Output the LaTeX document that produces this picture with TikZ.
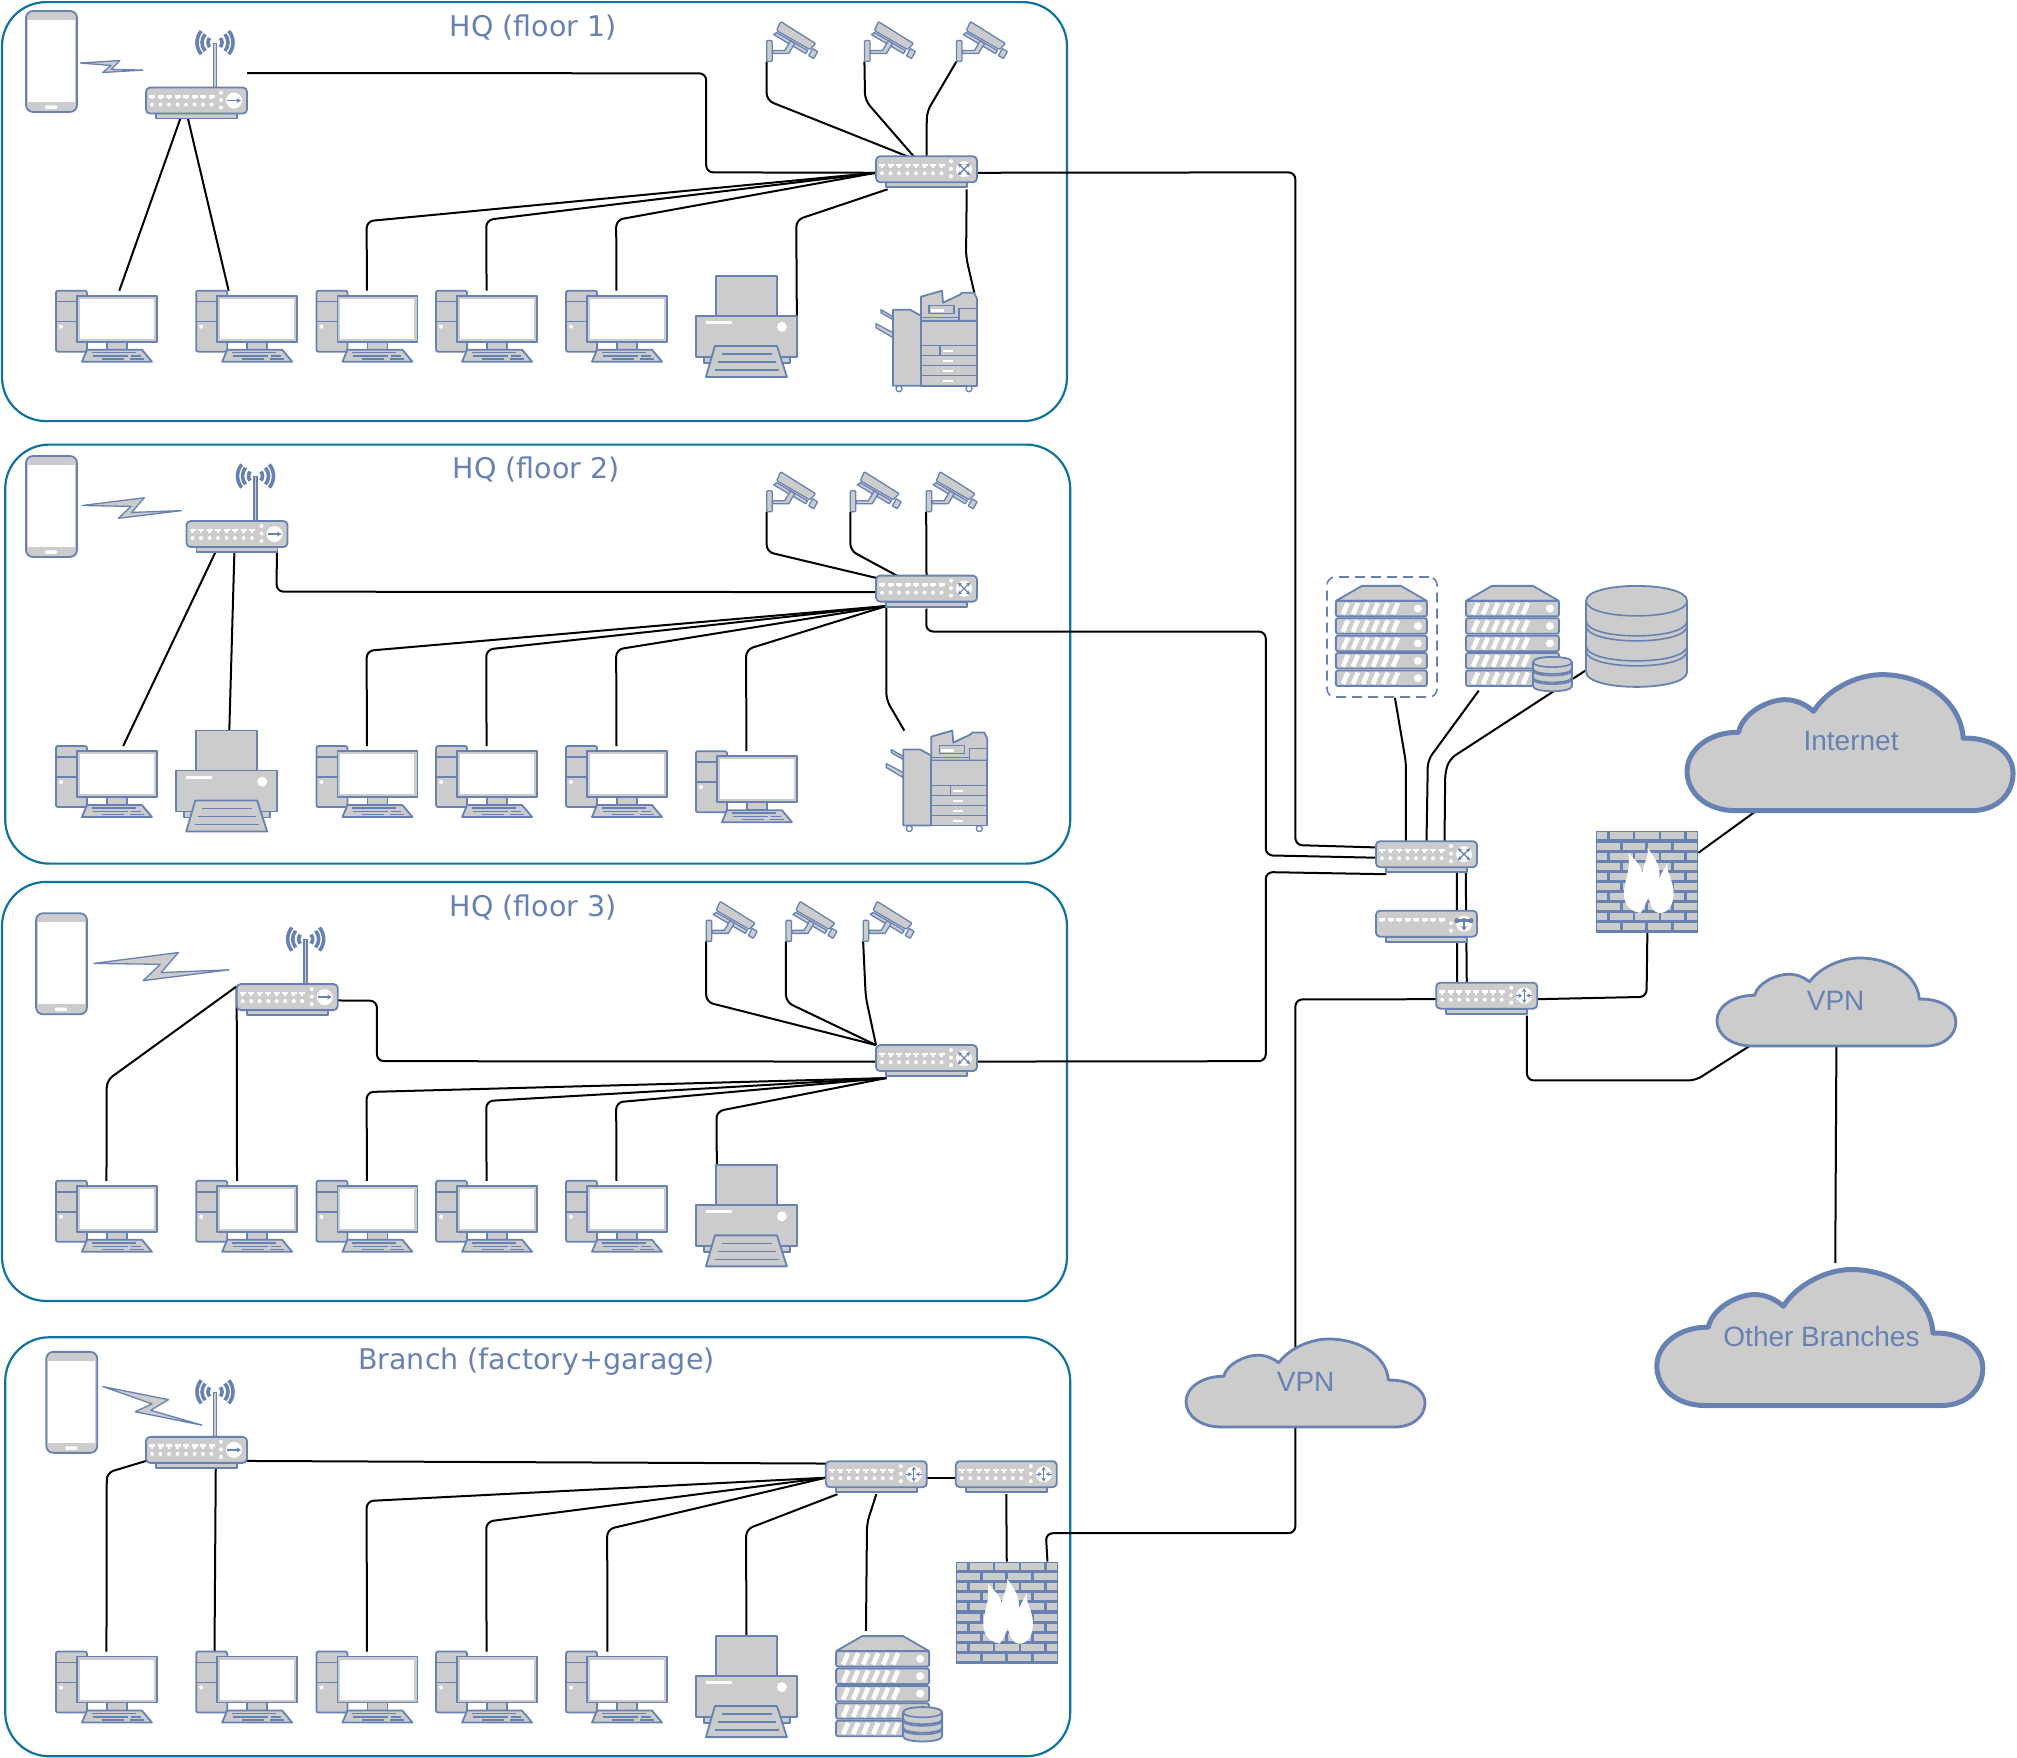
\documentclass[tikz,border=0pt]{standalone}
\usepackage{fontspec}
\usetikzlibrary{calc,arrows.meta}
\setmainfont{Liberation Sans}
\newfontfamily\titlefont{DejaVu Sans}
\definecolor{bl}{HTML}{6881B3}
\definecolor{gy}{HTML}{CCCCCC}
\definecolor{frame}{HTML}{10739E}
\pgfdeclarelayer{grp}\pgfdeclarelayer{wires}\pgfsetlayers{grp,wires,main}
\tikzset{
  ic/.style={draw=bl,fill=gy,line width=1.8pt,line join=round},
  bline/.style={draw=bl,line width=1.6pt},
  link/.style={draw=black,line width=2pt,rounded corners=7pt},
  group/.style={draw=frame,line width=2.2pt,rounded corners=44pt,inner sep=0pt,anchor=north west,minimum width=1065pt,minimum height=419pt},
  title/.style={text=bl,font=\titlefont\fontsize{28.5}{32}\selectfont,inner sep=0pt},
  cloudtext/.style={text=bl,font=\fontsize{28}{32}\selectfont,inner sep=0pt},
  devbox/.style={inner sep=0pt,outer sep=0pt,anchor=north west},
  pcbox/.style={minimum width=101pt,minimum height=71pt},
  phonebox/.style={minimum width=51pt,minimum height=101pt},
  apbox/.style={minimum width=101pt,minimum height=87pt},
  swbox/.style={minimum width=101pt,minimum height=33pt},
  rtbox/.style={minimum width=101pt,minimum height=33pt},
  midbox/.style={minimum width=101pt,minimum height=33pt},
  cambox/.style={minimum width=51pt,minimum height=41pt},
  printerbox/.style={minimum width=101pt,minimum height=101pt},
  mfpbox/.style={minimum width=101pt,minimum height=102pt},
  rackbox/.style={minimum width=91pt,minimum height=101pt},
  srvbox/.style={minimum width=106pt,minimum height=106pt},
  dbbox/.style={minimum width=101pt,minimum height=101pt},
  fwbox/.style={minimum width=102pt,minimum height=102pt},
  dashgroup/.style={draw=bl,line width=1.6pt,dash pattern=on 10pt off 6pt,rounded corners=8pt,inner sep=0pt,anchor=north west,minimum width=110pt,minimum height=120pt},
  tip/.style={line width=1.2pt,bl},
}
\newcommand\iconpc{%
  \filldraw[ic,rounded corners=2pt] (0,0) rectangle (31,61);
  \draw[bline] (0,11)--(21,11) (0,31)--(21,31);
  \fill[white] (5,36) circle (2);
  \filldraw[ic] (51,51) rectangle (71,59);
  \filldraw[ic] (21,5) rectangle (101,51);
  \fill[white] (24,8) rectangle (98,48);
  \filldraw[ic] (31,59)--(86,59)--(96,71)--(26,71)--cycle;
  \draw[bl,line width=1.5pt] (36,62)--(80,62) (37,65.5)--(72,65.5) (75,65.5)--(85,65.5) (46,68.5)--(68,68.5) (74,68.5)--(88,68.5);
}
\newcommand\iconphone{%
  \filldraw[ic,rounded corners=7pt] (0,0) rectangle (51,101);
  \fill[white] (2,9) rectangle (49,91);
  \fill[white,rounded corners=1pt] (19,94.5) rectangle (31,98);
}
\newcommand\swbody[1]{%
  \filldraw[ic] (10,26) rectangle (91,31);
  \filldraw[ic,rounded corners=4pt] (0,0) rectangle (101,26);
  \foreach \i in {0,...,7}{%
    \fill[white] ({3+8.5*\i},7.5) rectangle ++(6,2.5);
    \fill[white] ({4.8+8.5*\i},10) rectangle ++(2.4,1.8);
  }
  #1
  \fill[white] (88,13) circle (8);
}
\newcommand\dotrow{%
  \foreach \i in {0,...,7}{\fill[white] ({6+8.5*\i},17) circle (2);}
  \fill[white] (75,5) circle (2) (75,12.5) circle (2) (75,20) circle (2);
}
\newcommand\iconsw{%
  \swbody{\dotrow}
  \begin{scope}[tip,{Stealth[length=4pt,width=4.5pt]}-{Stealth[length=4pt,width=4.5pt]}]
    \draw (82,7)--(94,19); \draw (94,7)--(82,19);
  \end{scope}
}
\newcommand\iconrt{%
  \swbody{\dotrow}
  \begin{scope}[tip]
    \draw[{Stealth[length=4pt,width=4.5pt]}-{Stealth[length=4pt,width=4.5pt]}] (88,5.5)--(88,20.5);
    \draw[-{Stealth[length=4pt,width=4.5pt]}] (80,13)--(86,13);
    \draw[-{Stealth[length=4pt,width=4.5pt]}] (96,13)--(90,13);
  \end{scope}
}
\newcommand\iconmid{%
  \swbody{\fill[white] (75,12.5) circle (2) (75,20) circle (2);}
  \draw[bl,line width=2.4pt,-{Stealth[length=4.5pt,width=6pt]}] (88,7)--(88,20);
  \draw[bl,line width=3pt] (83,10)--(93,10);
  \fill[bl] (81,10) circle (2.6) (95,10) circle (2.6);
}
\newcommand\iconap{%
  \draw[bl,line width=4.6pt] (69,13)--(69,58);
  \draw[gy,line width=1.6pt] (69,14)--(69,58);
  \foreach \r in {7,13,18}{%
    \draw[bl,line width=3.6pt] (69,13) ++(40:\r) arc (40:-40:\r);
    \draw[bl,line width=3.6pt] (69,13) ++(140:\r) arc (140:220:\r);
  }
  \begin{scope}[shift={(0,58)}]
    \swbody{\dotrow}
    \draw[bl,line width=1.5pt,-{Stealth[length=4.5pt,width=5pt]}] (81,13)--(95,13);
  \end{scope}
}
\newcommand\iconcam{%
  \filldraw[ic,fill=gy,line width=1.3pt] (7,14)--(39,33)--(41,30)--(10,12)--cycle;
  \filldraw[ic,line width=1.3pt] (6,30)--(18,30)--(24,20)--(28,23)--(22,33)--(6,33)--cycle;
  \filldraw[ic,line width=1.3pt,rounded corners=1pt] (0,20) rectangle (5.5,41);
  \filldraw[ic,line width=1.3pt,rounded corners=1pt] (14,1)--(49,23)--(43,29)--(10,10)--cycle;
  \filldraw[ic,line width=1.3pt,rounded corners=.5pt] (46,28)--(51,31)--(47,38)--(42,35)--cycle;
}
\newcommand\iconprinter{%
  \filldraw[ic] (20,0) rectangle (81,40);
  \filldraw[ic] (8,81) rectangle (94,87);
  \filldraw[ic] (0,40) rectangle (101,81);
  \fill[white] (10,45) rectangle (36,48);
  \fill[white] (86,51) circle (5);
  \filldraw[ic] (19,70)--(81,70)--(91,101)--(10,101)--cycle;
  \draw[bline] (26,78)--(76,78) (22,86)--(80,86) (19,94)--(83,94);
}
\newcommand\iconmfp{%
  \filldraw[ic,line width=1.3pt] (5,19)--(17,26)--(17,29)--(5,22)--cycle;
  \filldraw[ic,line width=1.3pt] (0,33)--(17,42)--(17,47)--(0,37)--cycle;
  \filldraw[ic] (17,19)--(34,19)--(45,25)--(45,95)--(17,95)--cycle;
  \filldraw[ic] (45,6)--(66,0)--(67,12)--(84,4)--(86,2)--(98,2)--(101,8)--(101,30)--(45,30)--cycle;
  \filldraw[ic,line width=1.3pt] (53,15) rectangle (78,23);
  \fill[white] (55,18) rectangle (68,21);
  \draw[bline] (83,29)--(83,18)--(101,18) (45,27)--(83,27);
  \filldraw[ic] (45,30) rectangle (101,95);
  \draw[bline] (45,55)--(101,55) (45,65)--(101,65) (45,75)--(101,75) (45,85)--(101,85) (64,55)--(64,65);
  \foreach \y in {59,69,79,89}{\fill[white] (67,\y) rectangle (77,{\y+2.5});}
  \filldraw[ic,fill=white,line width=1.3pt] (23,98) circle (3) (93,98) circle (3);
}
\newcommand\rackrows[1]{%
  \filldraw[ic] (0,15)--(26,0)--({#1-26},0)--(#1,15)--cycle;
  \foreach \j in {0,...,4}{%
    \begin{scope}[shift={(0,{15+17.4*\j})}]
      \filldraw[ic,rounded corners=2pt] (0,0) rectangle (#1,15.5);
      \foreach \i in {0,...,5}{\draw[white,line width=4.6pt] ({7+10*\i},13.5)--({12+10*\i},2);}
      \fill[white] ({#1-9},7.7) circle (4);
    \end{scope}
  }
}
\newcommand\iconrack{\rackrows{91}}
\newcommand\dbshape{%
  \filldraw[ic] (0,15) .. controls (0,-5) and (101,-5) .. (101,15) -- (101,86) .. controls (101,106) and (0,106) .. (0,86) -- cycle;
  \draw[bline] (0,15) .. controls (0,35) and (101,35) .. (101,15);
  \foreach \y in {35,40,60,65}{\draw[bline] (0,\y) .. controls (0,{\y+20}) and (101,{\y+20}) .. (101,\y);}
}
\newcommand\icondb{\dbshape}
\newcommand\iconsrv{%
  \rackrows{93}
  \begin{scope}[shift={(67,71)},x=.386pt,y=-.34pt]\dbshape\end{scope}
}
\newcommand\iconfw{%
  \fill[bl] (0,0) rectangle (102,102);
  \foreach \j in {0,2,...,8}{%
    \foreach \a/\b in {1/11,14/37,39/63,65/88,91/101}{\fill[gy] (\a,{1.5+10.1*\j}) rectangle (\b,{8.5+10.1*\j});}
  }
  \foreach \j in {1,3,...,9}{%
    \foreach \a/\b in {1/24,27/49,52/75,78/101}{\fill[gy] (\a,{1.5+10.1*\j}) rectangle (\b,{8.5+10.1*\j});}
  }
  \fill[white] (44,82) .. controls (30,80) and (26,68) .. (28,58) .. controls (29,48) and (34,40) .. (32,22) .. controls (40,30) and (45,36) .. (46,42) .. controls (47,32) and (53,26) .. (51,17) .. controls (60,28) and (66,40) .. (62,50) .. controls (64,44) and (68,38) .. (71,32) .. controls (70,44) and (79,52) .. (77,66) .. controls (76,76) and (70,83) .. (62,82) .. controls (56,81) and (54,74) .. (52,66) .. controls (50,72) and (47,78) .. (44,82) -- cycle;
}
\newcommand\place[4]{%
  \node[devbox,#2box] (#1) at (#3,#4) {};
  \begin{scope}[shift={(#1.north west)},x=1pt,y=-1pt]\csname icon#2\endcsname\end{scope}
}
\newcommand\bolt[4]{%
  \begin{scope}[shift={(#1,#2)},x={({#3*1.2864pt},{-#4*1.2864pt})},y={({-0.11*#4*1.2864pt},{-0.11*#3*1.2864pt})}]
    \filldraw[ic,line width=1.3pt] (0,0)--(.62,-1)--(.5,.4)--(1,0)--(.37,1)--(.49,-.15)--cycle;
  \end{scope}
}
\newcommand\cloudat[6]{%
  \node[inner sep=0pt,outer sep=0pt,anchor=north west,minimum width=#4pt,minimum height=#5pt] (#1) at (#2,#3) {};
  \begin{scope}[shift={(#1.north west)},x=#4pt,y=-#5pt]
    \filldraw[draw=bl,fill=gy,line width=#6pt,line join=round] (.148,1) .. controls (.06,1) and (0,.87) .. (0,.71) .. controls (0,.55) and (.07,.42) .. (.158,.424) .. controls (.17,.28) and (.25,.184) .. (.30,.184) .. controls (.335,.184) and (.365,.22) .. (.388,.27) .. controls (.43,.11) and (.52,0) .. (.597,0) .. controls (.73,0) and (.84,.2) .. (.847,.467) .. controls (.94,.46) and (1,.58) .. (1,.725) .. controls (1,.88) and (.95,1) .. (.872,1) -- cycle;
  \end{scope}
}
\begin{document}
\begin{tikzpicture}[x=1.28635pt,y=-1.28624pt]
\path[use as bounding box] (0,0) rectangle (1568,1366);
\begin{pgfonlayer}{grp}
  \node[group] (f1) at (0.7,0.8) {};
  \node[group] (f2) at (3.2,344.8) {};
  \node[group] (f3) at (0.7,684.8) {};
  \node[group] (f4) at (3.2,1038.8) {};
\end{pgfonlayer}
\node[title] (t1) at (414.5,21.3) {HQ (floor 1)};
\node[title] (t2) at (417,365) {HQ (floor 2)};
\node[title] (t3) at (414.5,705.3) {HQ (floor 3)};
\node[title] (t4) at (417,1058.5) {Branch (factory+garage)};
% floor 1
\place{ph1}{phone}{20.2}{8.5}
\bolt{62.5}{49}{48.5}{5.5}
\place{ap1}{ap}{113.5}{23}
\place{sw1}{sw}{681}{121.5}
\place{c11}{cam}{596}{16}
\place{c12}{cam}{672}{16}
\place{c13}{cam}{743.5}{16}
\place{p11}{pc}{43.5}{226}
\place{p12}{pc}{152.5}{226}
\place{p13}{pc}{246}{226}
\place{p14}{pc}{339}{226}
\place{p15}{pc}{440}{226}
\place{pr1}{printer}{541}{214.5}
\place{mf1}{mfp}{681}{226}
% floor 2
\place{ph2}{phone}{20.2}{354.5}
\bolt{64}{393}{77}{4}
\place{ap2}{ap}{145}{360}
\place{sw2}{sw}{681}{447.5}
\place{c21}{cam}{596}{366}
\place{c22}{cam}{661}{366}
\place{c23}{cam}{720}{366}
\place{p21}{pc}{43.5}{580}
\place{pr2}{printer}{137}{568}
\place{p23}{pc}{246}{580}
\place{p24}{pc}{339}{580}
\place{p25}{pc}{440}{580}
\place{p26}{pc}{541}{584}
\place{mf2}{mfp}{689}{568}
% floor 3
\place{ph3}{phone}{28}{710}
\bolt{73}{749}{105}{5}
\place{ap3}{ap}{184}{720}
\place{sw3}{sw}{681}{812.5}
\place{c31}{cam}{549}{700}
\place{c32}{cam}{611}{700}
\place{c33}{cam}{671}{700}
\place{p31}{pc}{43.5}{918}
\place{p32}{pc}{152.5}{918}
\place{p33}{pc}{246}{918}
\place{p34}{pc}{339}{918}
\place{p35}{pc}{440}{918}
\place{pr3}{printer}{541}{906}
% branch
\place{ph4}{phone}{36}{1051}
\bolt{80}{1078}{77}{30}
\place{ap4}{ap}{113.5}{1072}
\place{ra}{rt}{642}{1136}
\place{rb}{rt}{743}{1136}
\place{p41}{pc}{43.5}{1284}
\place{p42}{pc}{152.5}{1284}
\place{p43}{pc}{246}{1284}
\place{p44}{pc}{339}{1284}
\place{p45}{pc}{440}{1284}
\place{pr4}{printer}{541}{1272}
\place{srvb}{srv}{650}{1272}
\place{fwb}{fw}{743}{1214}
% core
\node[dashgroup] (rackgrp) at (1031,448) {};
\place{rack1}{rack}{1038.5}{455.5}
\place{srv2}{srv}{1139.6}{455.5}
\place{db1}{db}{1233}{455.5}
\place{core}{sw}{1069.7}{654}
\place{mid}{mid}{1069.7}{708}
\place{rt1}{rt}{1116.5}{764}
\place{fw1}{fw}{1241}{646}
\cloudat{inet}{1311.5}{524.5}{326}{136}{5}
\cloudat{vpn2}{1334.7}{744.8}{239}{88}{2.8}
\cloudat{other}{1288}{987}{326}{136}{5}
\cloudat{vpn1}{922}{1041}{239}{88}{2.8}
\node[cloudtext] (li) at (1439,576) {Internet};
\node[cloudtext] (lv2) at (1427,778) {VPN};
\node[cloudtext] (lo) at (1416,1039) {Other Branches};
\node[cloudtext] (lv1) at (1015,1074) {VPN};
\begin{pgfonlayer}{wires}
  % floor 1
  \draw[link] (ap1.east) -- (549,57) -- (549,134) -- (sw1.west);
  \draw[link] ($(ap1.south)+(-12,0)$) -- ($(p11.north)+(10,0)$);
  \draw[link] ($(ap1.south)+(-7,0)$) -- ($(p12.north)+(-14,0)$);
  \draw[link] (p13.north) -- (285,172) -- (sw1.west);
  \draw[link] (p14.north) -- (378,171) -- (sw1.west);
  \draw[link] (p15.north) -- (479,171) -- (sw1.west);
  \draw[link] ($(pr1.north east)+(0,40)$) -- (619,171) -- ($(sw1.south west)+(9,0)$);
  \draw[link] ($(sw1.south east)+(-8,0)$) -- (751,200) -- ($(mf1.north east)+(-2,2)$);
  \draw[link] (c11.south west) -- (596,78) -- ($(sw1.north)+(-15,0)$);
  \draw[link] (c12.south west) -- (672.5,78) -- ($(sw1.north)+(-10,0)$);
  \draw[link] (c13.south west) -- (720.5,87) -- (sw1.north);
  \draw[link] (sw1.east) -- (1007,134) -- (1007,657) -- ($(core.west)+(0,-8)$);
  % floor 2
  \draw[link] ($(ap2.south)+(31,0)$) -- (215,460) -- (sw2.west);
  \draw[link] ($(ap2.south)+(-16,0)$) -- ($(p21.north)+(13,0)$);
  \draw[link] ($(ap2.south)+(-2,0)$) -- ($(pr2.north)+(2,0)$);
  \draw[link] (p23.north) -- (285,506) -- ($(sw2.south west)+(8,-2)$);
  \draw[link] (p24.north) -- (378,505) -- ($(sw2.south west)+(8,-2)$);
  \draw[link] (p25.north) -- (479,505) -- ($(sw2.south west)+(8,-2)$);
  \draw[link] (p26.north) -- (580,505) -- ($(sw2.south west)+(8,-2)$);
  \draw[link] ($(sw2.south west)+(8,-2)$) -- (689,544) -- ($(mf2.north west)+(14,0)$);
  \draw[link] (c21.south west) -- (596,429) -- ($(sw2.north west)+(1,2)$);
  \draw[link] (c22.south west) -- (661,428) -- ($(sw2.north west)+(18,1)$);
  \draw[link] (c23.south west) -- (sw2.north);
  \draw[link] (sw2.south) -- (720,491) -- (984,491) -- (984,665) -- (core.west);
  % floor 3
  \draw[link] ($(ap3.west)+(0,13)$) -- (83,840) -- (p31.north);
  \draw[link] ($(ap3.west)+(0,13)$) -- ($(p32.north)+(-7.5,0)$);
  \draw[link] ($(ap3.east)+(0,24)$) -- (293,778) -- (293,825) -- (sw3.west);
  \draw[link] (p33.north) -- (285,849) -- ($(sw3.south west)+(8,0)$);
  \draw[link] (p34.north) -- (378,856) -- ($(sw3.south west)+(8,0)$);
  \draw[link] (p35.north) -- (479,857) -- ($(sw3.south west)+(8,0)$);
  \draw[link] ($(pr3.north)+(-23,0)$) -- (557,864) -- ($(sw3.south west)+(8,0)$);
  \draw[link] (c31.south west) -- (549,779) -- (sw3.north west);
  \draw[link] (c32.south west) -- (611,779) -- (sw3.north west);
  \draw[link] (c33.south west) -- (673,775) -- (sw3.north west);
  \draw[link] (sw3.east) -- (984,825) -- (984,678) -- ($(core.south west)+(8,0)$);
  % branch
  \draw[link] ($(ap4.east)+(0,30)$) -- ($(ra.west)+(0,-11)$);
  \draw[link] ($(ap4.west)+(0,30)$) -- (83,1145) -- (p41.north);
  \draw[link] ($(ap4.south)+(15,-2)$) -- ($(p42.north)+(-25,0)$);
  \draw[link] (p43.north) -- (285,1167) -- (ra.west);
  \draw[link] (p44.north) -- (378,1183) -- (ra.west);
  \draw[link] ($(p45.north)+(-7,0)$) -- (472,1189) -- (ra.west);
  \draw[link] (pr4.north) -- (580,1189) -- ($(ra.south west)+(9,0)$);
  \draw[link] (ra.south) -- (674,1184) -- ($(srvb.north)+(-18,-4)$);
  \draw[link] (ra.east) -- (rb.west);
  \draw[link] (rb.south) -- (fwb.north);
  \draw[link] ($(fwb.north east)+(-8,0)$) -- (813,1192) -- (1007,1192) -- (1007,777) -- (rt1.west);
  % core
  \draw[link] ($(rackgrp.south)+(10,0)$) -- (1093,593) -- ($(core.north)+(-16,0)$);
  \draw[link] ($(srv2.south west)+(10,-1)$) -- (1110,591) -- (core.north);
  \draw[link] ($(db1.south west)+(0,-13)$) -- (1127,590) -- (1123.5,600) -- ($(core.north)+(14,0)$);
  \draw[link] ($(core.south)+(23.5,-2)$) -- ($(rt1.north)+(-23,0)$);
  \draw[link] ($(core.south)+(30.5,-2)$) -- ($(rt1.north)+(-15.5,0)$);
  \draw[link] (rt1.east) -- (1280,775) -- (fw1.south);
  \draw[link] ($(rt1.south east)+(-8,0)$) -- (1187,840) -- (1318,840) -- ($(vpn2.south west)+(27,-1)$);
  \draw[link] ($(fw1.north east)+(0,17)$) -- ($(inet.south west)+(54,0)$);
  \draw[link] (vpn2.south) -- ($(other.north)+(12,-5)$);
\end{pgfonlayer}
\end{tikzpicture}
\end{document}
